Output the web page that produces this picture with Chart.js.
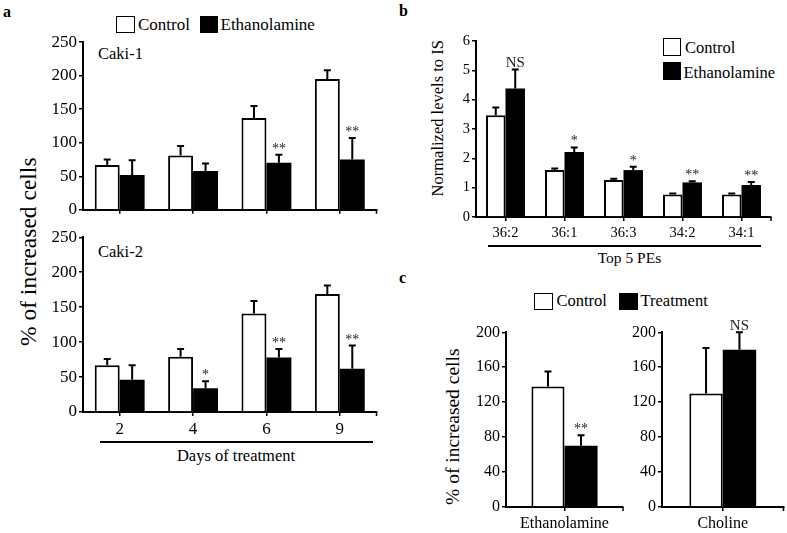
<!DOCTYPE html>
<html>
<head>
<meta charset="utf-8">
<script src="https://cdn.jsdelivr.net/npm/chart.js@4"></script>
<style>
body { margin: 0; background: #fff; }
#page { position: relative; width: 787px; height: 533px; overflow: hidden; font-family: 'Liberation Serif', serif; color: #000; }
#page canvas { position: absolute; }
.txt { position: absolute; line-height: 1; white-space: nowrap; }
.panel { font-weight: bold; font-size: 16px; }
.box { position: absolute; border: 1.5px solid #000; box-sizing: border-box; }
.rule { position: absolute; height: 1.5px; background: #000; }
.ytitle { position: absolute; line-height: 1; white-space: nowrap; text-align: center; transform: rotate(-90deg); }
</style>
</head>
<body>
<div id="page">
  <div class="txt panel" style="left:3px; top:4px;">a</div>
  <div class="txt panel" style="left:399px; top:3px;">b</div>
  <div class="txt panel" style="left:399px; top:270px;">c</div>

  <!-- legend a -->
  <div class="box" style="left:116px; top:16px; width:19px; height:17px; background:#fff;"></div>
  <div class="txt" style="left:138px; top:16px; font-size:17px;">Control</div>
  <div class="box" style="left:200px; top:16px; width:18px; height:17px; background:#000;"></div>
  <div class="txt" style="left:220.5px; top:16px; font-size:17px;">Ethanolamine</div>

  <div class="txt" style="left:98px; top:46px; font-size:16.5px;">Caki-1</div>
  <div class="txt" style="left:98px; top:243.5px; font-size:16.5px;">Caki-2</div>
  <div class="ytitle" style="left:-101.5px; top:240px; width:260px; font-size:23.5px;">% of increased cells</div>
  <div class="rule" style="left:100px; top:441px; width:273px;"></div>
  <div class="txt" style="left:136px; top:448px; width:200px; text-align:center; font-size:16.5px;">Days of treatment</div>

  <!-- legend b -->
  <div class="box" style="left:663px; top:38px; width:18px; height:18px; background:#fff;"></div>
  <div class="txt" style="left:685px; top:39.5px; font-size:16.5px;">Control</div>
  <div class="box" style="left:663px; top:62px; width:18px; height:18px; background:#000;"></div>
  <div class="txt" style="left:683.5px; top:64.5px; font-size:16.5px;">Ethanolamine</div>
  <div class="ytitle" style="left:337.5px; top:109.5px; width:200px; font-size:16.5px;">Normalized levels to IS</div>
  <div class="rule" style="left:488px; top:245px; width:273px;"></div>
  <div class="txt" style="left:569.5px; top:250px; width:120px; text-align:center; font-size:15.5px;">Top 5 PEs</div>

  <!-- legend c -->
  <div class="box" style="left:534px; top:293px; width:19px; height:17px; background:#fff;"></div>
  <div class="txt" style="left:556.5px; top:293px; font-size:16.5px;">Control</div>
  <div class="box" style="left:619px; top:293px; width:19px; height:17px; background:#000;"></div>
  <div class="txt" style="left:640.5px; top:293px; font-size:16.5px;">Treatment</div>
  <div class="ytitle" style="left:362.7px; top:417.2px; width:180px; font-size:19.5px;">% of increased cells</div>

  <canvas id="a1"></canvas>
  <canvas id="a2"></canvas>
  <canvas id="b"></canvas>
  <canvas id="c1"></canvas>
  <canvas id="c2"></canvas>
</div>
<script>
Chart.defaults.font.family = "'Liberation Serif', serif";
Chart.defaults.color = '#000';

// panel a: days of treatment
const days = ['2', '4', '6', '9'];
const caki1Control = [67, 81, 137, 195];
const caki1ControlErr = [8, 14, 18, 13];
const caki1Ethanol = [52, 58, 70, 75];
const caki1EthanolErr = [22, 11, 12, 32];
const caki1Marks = ['', '', '**', '**'];

const caki2Control = [67, 79, 141, 169];
const caki2ControlErr = [9, 11, 18, 12];
const caki2Ethanol = [46, 34, 78, 62];
const caki2EthanolErr = [21, 10, 12, 33];
const caki2Marks = ['', '*', '**', '**'];

// panel b: top 5 PEs
const peLabels = ['36:2', '36:1', '36:3', '34:2', '34:1'];
const peControl = [3.47, 1.6, 1.26, 0.77, 0.77];
const peControlErr = [0.26, 0.05, 0.04, 0.03, 0.03];
const peEthanol = [4.38, 2.22, 1.6, 1.18, 1.09];
const peEthanolErr = [0.65, 0.15, 0.11, 0.04, 0.1];
const peMarks = ['NS', '*', '*', '**', '**'];

// panel c
const ethLabel = ['Ethanolamine'];
const ethControl = [138];
const ethControlErr = [17];
const ethTreat = [70];
const ethTreatErr = [12];
const ethMarks = ['**'];

const cholLabel = ['Choline'];
const cholControl = [130];
const cholControlErr = [52];
const cholTreat = [180];
const cholTreatErr = [20];
const cholMarks = ['NS'];

// error bar (upper half only) + significance text, plus the little tick at the end of the x axis
const errorBars = {
  id: 'errorBars',
  afterDatasetsDraw(chart) {
    const ctx = chart.ctx;
    const yScale = chart.scales.y;
    chart.data.datasets.forEach((ds, di) => {
      chart.getDatasetMeta(di).data.forEach((bar, i) => {
        const yTop = yScale.getPixelForValue(ds.data[i] + ds.errors[i]);
        ctx.save();
        ctx.strokeStyle = '#000';
        ctx.lineWidth = 2;
        ctx.beginPath();
        ctx.moveTo(bar.x, bar.y);
        ctx.lineTo(bar.x, yTop);
        ctx.moveTo(bar.x - 3.5, yTop);
        ctx.lineTo(bar.x + 3.5, yTop);
        ctx.stroke();
        const mark = ds.marks[i];
        if (mark) {
          ctx.fillStyle = '#222';
          ctx.textAlign = 'center';
          ctx.textBaseline = 'alphabetic';
          ctx.font = (mark == 'NS' ? 15 : 14) + "px 'Liberation Serif'";
          ctx.fillText(mark, bar.x, yTop - 2);
        }
        ctx.restore();
      });
    });
  },
  afterDraw(chart) {
    const ctx = chart.ctx;
    const area = chart.chartArea;
    ctx.save();
    ctx.strokeStyle = '#000';
    ctx.lineWidth = 1.5;
    ctx.beginPath();
    ctx.moveTo(area.right, area.bottom);
    ctx.lineTo(area.right, area.bottom + 4);
    ctx.stroke();
    ctx.restore();
  }
};

function makeChart(id, c) {
  const cv = document.getElementById(id);
  cv.width = c.w;
  cv.height = c.h;
  cv.style.left = c.x + 'px';
  cv.style.top = c.y + 'px';
  return new Chart(cv, {
    type: 'bar',
    data: {
      labels: c.labels,
      datasets: [
        { label: 'Control', data: c.control, errors: c.controlErr, marks: [],
          backgroundColor: '#fff', borderColor: '#000', borderWidth: 2,
          categoryPercentage: c.cat, barPercentage: 1 },
        { label: c.treatName, data: c.treat, errors: c.treatErr, marks: c.marks,
          backgroundColor: '#000', borderColor: '#000', borderWidth: 0,
          categoryPercentage: c.cat, barPercentage: 1 }
      ]
    },
    options: {
      responsive: false,
      animation: false,
      devicePixelRatio: 1,
      layout: { padding: { left: 0, top: c.padTop, right: c.padRight, bottom: 0 } },
      plugins: { legend: { display: false }, tooltip: { enabled: false } },
      scales: {
        x: {
          grid: { offset: false, drawOnChartArea: false, tickLength: 4, color: '#000', lineWidth: 1.5 },
          border: { color: '#000', width: 2 },
          ticks: { display: c.showX, font: { size: c.tickSize }, color: '#000', padding: 3 },
          afterFit: s => { s.height = c.xh; }
        },
        y: {
          min: 0,
          max: c.max,
          ticks: { stepSize: c.step, font: { size: c.tickSize }, color: '#000', padding: 2 },
          grid: { drawOnChartArea: false, tickLength: 4, color: '#000', lineWidth: 1.5 },
          border: { color: '#000', width: 2 },
          afterFit: s => { s.width = c.yw; }
        }
      }
    },
    plugins: [errorBars]
  });
}

makeChart('a1', { x: 40, y: 30, w: 345, h: 192, yw: 43, xh: 6, padTop: 12, padRight: 8.5,
  labels: days, control: caki1Control, controlErr: caki1ControlErr,
  treatName: 'Ethanolamine', treat: caki1Ethanol, treatErr: caki1EthanolErr, marks: caki1Marks,
  cat: 0.68, max: 250, step: 50, tickSize: 17, showX: false });

makeChart('a2', { x: 40, y: 225, w: 345, h: 217, yw: 43, xh: 30, padTop: 12.3, padRight: 8.5,
  labels: days, control: caki2Control, controlErr: caki2ControlErr,
  treatName: 'Ethanolamine', treat: caki2Ethanol, treatErr: caki2EthanolErr, marks: caki2Marks,
  cat: 0.68, max: 250, step: 50, tickSize: 17, showX: true });

makeChart('b', { x: 446, y: 29, w: 341, h: 216, yw: 30, xh: 28, padTop: 12, padRight: 16,
  labels: peLabels, control: peControl, controlErr: peControlErr,
  treatName: 'Ethanolamine', treat: peEthanol, treatErr: peEthanolErr, marks: peMarks,
  cat: 0.66, max: 6, step: 1, tickSize: 14.5, showX: true });

makeChart('c1', { x: 470, y: 320, w: 161, h: 215, yw: 36, xh: 28, padTop: 12.3, padRight: 8,
  labels: ethLabel, control: ethControl, controlErr: ethControlErr,
  treatName: 'Treatment', treat: ethTreat, treatErr: ethTreatErr, marks: ethMarks,
  cat: 0.565, max: 200, step: 40, tickSize: 16, showX: true });

makeChart('c2', { x: 630, y: 320, w: 157, h: 215, yw: 32, xh: 28, padTop: 12.3, padRight: 3.5,
  labels: cholLabel, control: cholControl, controlErr: cholControlErr,
  treatName: 'Treatment', treat: cholTreat, treatErr: cholTreatErr, marks: cholMarks,
  cat: 0.55, max: 200, step: 40, tickSize: 16, showX: true });
</script>
</body>
</html>
